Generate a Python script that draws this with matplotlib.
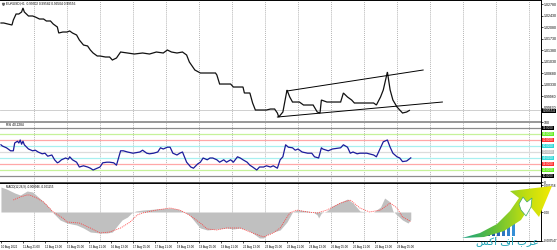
import matplotlib
matplotlib.use('Agg')
import matplotlib.pyplot as plt
import matplotlib.transforms as mtrans
from matplotlib.patches import Polygon, Rectangle
from matplotlib.colors import LinearSegmentedColormap
import numpy as np

plt.rcParams['font.family'] = ['Liberation Sans', 'DejaVu Sans']

# ---- data (x = bar number, H1) ----
price_bar = [0, 2, 5, 8, 9, 11, 13, 15, 16, 17, 20, 23, 25, 28, 31, 33, 36, 38, 41, 42,
             45, 48, 50, 52, 55, 57, 60, 63, 65, 67, 70, 72, 76, 79, 81, 84, 87, 92, 97, 103,
             108, 113, 118, 121, 124, 128, 132, 135, 137, 141, 145, 148, 152, 156, 157, 159, 163, 167, 169, 172,
             176, 177, 181, 183, 185, 188, 193, 196, 199, 201, 202, 205, 208, 210, 212, 217, 220, 223, 227, 230,
             232, 233, 237, 241, 247, 249, 252, 255, 257, 265, 271, 273, 276, 278, 281, 283, 285, 288, 290, 292,
             295, 297]
price_close = [1.02211, 1.02211, 1.02180, 1.02150, 1.02302, 1.02484, 1.02484, 1.02545, 1.02667, 1.02545,
               1.02424, 1.02424, 1.02393, 1.02332, 1.02332, 1.02272, 1.02272, 1.02180, 1.02089, 1.01907,
               1.01937, 1.01937, 1.01968, 1.01907, 1.01846, 1.01694, 1.01542, 1.01512, 1.01390, 1.01299,
               1.01208, 1.01208, 1.01177, 1.01177, 1.01086, 1.01147, 1.01329, 1.01299, 1.01268, 1.01299,
               1.01268, 1.01329, 1.01299, 1.01390, 1.01329, 1.01299, 1.01329, 1.01238, 1.01025, 1.00782,
               1.00691, 1.00691, 1.00691, 1.00691, 1.00630, 1.00356, 1.00356, 1.00356, 1.00265, 1.00265,
               1.00265, 1.00083, 1.00083, 0.99779, 0.99566, 0.99566, 0.99566, 0.99596, 0.99596, 0.99475,
               0.99353, 0.99505, 1.00174, 0.99961, 0.99809, 0.99809, 0.99718, 0.99718, 0.99718, 0.99505,
               0.99475, 0.99870, 0.99809, 0.99809, 0.99809, 1.00083, 0.99961, 0.99870, 0.99779, 0.99779,
               0.99779, 0.99718, 0.99961, 1.00174, 1.00721, 1.00174, 0.99870, 0.99657, 0.99566, 0.99475,
               0.99505, 0.99554]
last_price = 0.99554

# channel drawn on the chart: (bar, price) end points
chan_up_bar = [208, 307]
chan_up_val = [1.00144, 1.00782]
chan_lo_bar = [201, 321]
chan_lo_val = [0.99353, 0.99809]

rsi_bar = [0, 1, 4, 7, 9, 10, 12, 13, 14, 15, 16, 17, 20, 23, 25, 27, 30, 32, 34, 37,
           39, 41, 42, 44, 47, 49, 50, 52, 55, 57, 60, 63, 65, 67, 70, 72, 74, 77, 79, 82,
           84, 87, 89, 92, 96, 101, 103, 106, 108, 111, 114, 116, 118, 121, 123, 125, 128, 130, 132, 135,
           138, 140, 143, 145, 147, 150, 152, 154, 157, 159, 162, 164, 167, 169, 172, 174, 176, 179, 181, 183,
           186, 188, 191, 193, 196, 198, 201, 203, 205, 207, 209, 212, 214, 216, 219, 223, 226, 228, 231, 233,
           234, 238, 241, 247, 249, 252, 254, 256, 259, 261, 266, 271, 273, 276, 278, 281, 283, 285, 288, 290,
           292, 295, 298]
rsi_val = [62, 60, 57, 52, 52, 65, 68, 65, 70, 63, 68, 62, 55, 52, 53, 50, 47, 48, 43, 45,
           37, 32, 33, 37, 40, 38, 42, 37, 33, 25, 27, 25, 23, 20, 23, 25, 32, 33, 33, 32,
           28, 52, 52, 50, 48, 50, 53, 48, 47, 48, 50, 57, 55, 58, 58, 48, 45, 48, 50, 33,
           25, 23, 30, 33, 40, 37, 40, 40, 37, 33, 37, 33, 37, 33, 42, 40, 37, 33, 28, 25,
           20, 25, 25, 27, 25, 27, 23, 37, 42, 62, 58, 57, 53, 55, 50, 48, 48, 42, 40, 57,
           55, 52, 55, 57, 62, 58, 48, 50, 47, 48, 48, 45, 42, 57, 67, 70, 58, 48, 42, 40,
           34, 35, 40.2284]
rsi_levels = [90, 80, 70, 60, 50, 40, 30, 20, 10]

macd_bar = [0, 4, 10, 14, 19, 23, 28, 32, 36, 38, 43, 48, 55, 60, 65, 72, 77, 81, 85, 88,
            92, 95, 98, 103, 113, 123, 128, 132, 137, 140, 143, 145, 150, 157, 164, 169, 174, 179, 183, 188,
            191, 193, 198, 203, 208, 210, 212, 215, 217, 223, 227, 230, 231, 233, 237, 241, 247, 252, 256, 261,
            266, 271, 276, 279, 283, 285, 288, 292, 296, 298]
macd_val = [0.00306, 0.00282, 0.00233, 0.00208, 0.00257, 0.00245, 0.00171, 0.00110, 0.00037, -0.00012,
            -0.00098, -0.00135, -0.00159, -0.00196, -0.00245, -0.00257, -0.00257, -0.00245, -0.00159, -0.00098,
            -0.00061, -0.00012, 0.00012, 0.00024, 0.00037, 0.00049, 0.00037, 0.00012, -0.00037, -0.00098,
            -0.00159, -0.00196, -0.00220, -0.00208, -0.00196, -0.00208, -0.00196, -0.00220, -0.00257, -0.00318,
            -0.00318, -0.00282, -0.00245, -0.00220, -0.00122, -0.00061, 0.0, 0.00024, 0.00024, 0.00012,
            0.0, -0.00037, -0.00073, -0.00012, 0.00012, 0.00073, 0.00122, 0.00159, 0.00110, 0.00012,
            0.0, 0.0, 0.00061, 0.00171, 0.00122, 0.00012, -0.00037, -0.00098, -0.00135, -0.000946]
signal_bar = [9, 14, 19, 21, 26, 31, 38, 45, 48, 57, 65, 72, 79, 87, 94, 99, 103, 113, 123, 130,
              137, 145, 150, 157, 164, 174, 183, 191, 198, 203, 210, 215, 223, 230, 237, 247, 254, 261, 268, 276,
              283, 288, 292, 298]
signal_val = [0.00147, 0.00184, 0.00208, 0.00208, 0.00171, 0.00122, 0.0, -0.00073, -0.00122, -0.00135,
              -0.00196, -0.00257, -0.00245, -0.00196, -0.00122, -0.00037, -0.00012, 0.00024, 0.00049, 0.00024,
              -0.00037, -0.00135, -0.00208, -0.00220, -0.00196, -0.00196, -0.00257, -0.00306, -0.00257, -0.00196,
              -0.00012, 0.00024, 0.0, -0.00012, 0.00024, 0.00110, 0.00147, 0.00049, 0.0, 0.00024,
              0.00110, 0.00049, -0.00061, -0.001155]

time_bar = list(range(0, 289, 16))
time_lab = ['10 Aug 2022', '11 Aug 21:00', '12 Aug 13:00', '15 Aug 05:00', '15 Aug 21:00',
            '16 Aug 13:00', '17 Aug 05:00', '17 Aug 21:00', '18 Aug 13:00', '19 Aug 05:00',
            '19 Aug 21:00', '22 Aug 13:00', '23 Aug 05:00', '23 Aug 21:00', '24 Aug 13:00',
            '25 Aug 05:00', '25 Aug 21:00', '26 Aug 13:00', '29 Aug 05:00']
grid_bar = list(range(24, 393, 24))
price_ticks = [1.02780, 1.02430, 1.02080, 1.01730, 1.01380, 1.01030, 1.00680, 1.00330, 0.99980, 0.99630]

# ---- figure ----
W, H = 557, 250
fig = plt.figure(figsize=(W / 100, H / 100), dpi=100)
fig.patch.set_facecolor('white')


def box(x0, y0, x1, y1):
    return [x0 / W, 1 - y1 / H, (x1 - x0) / W, (y1 - y0) / H]


ax_p = fig.add_axes(box(0, 0, 541, 121))
ax_r = fig.add_axes(box(0, 122, 541, 182))
ax_m = fig.add_axes(box(0, 183, 541, 241))
XL = (-0.7, 392.7)
FS = 2.5

for ax in (ax_p, ax_r, ax_m):
    ax.set_xlim(*XL)
    for s in ax.spines.values():
        s.set_linewidth(0.7)
        s.set_color('#000000')
    ax.spines['left'].set_visible(False)
    ax.vlines(grid_bar, 0, 1, transform=ax.get_xaxis_transform(), colors='#8a8a8a',
              linewidth=0.5, linestyles=(0, (1.2, 1.6)), zorder=0)
    ax.yaxis.tick_right()
    ax.tick_params(axis='y', labelsize=FS, length=1.5, width=0.5, pad=0.8)
    ax.tick_params(axis='x', length=0, labelbottom=False)

# main price panel
ax_p.set_ylim(0.99232, 1.0291)
ax_p.plot(price_bar, price_close, color='#111111', linewidth=0.9, solid_joinstyle='miter')
ax_p.plot(chan_up_bar, chan_up_val, color='#000000', linewidth=0.7)
ax_p.plot(chan_lo_bar, chan_lo_val, color='#000000', linewidth=0.7)
ax_p.axhline(last_price, color='#c8c8c8', linewidth=0.6, zorder=0)
ax_p.set_yticks(price_ticks)
ax_p.set_yticklabels(['%.5f' % v for v in price_ticks])
tr_p = mtrans.blended_transform_factory(ax_p.transAxes, ax_p.transData)
ax_p.text(1.003, last_price - 0.0002, '%.5f' % last_price, transform=tr_p, fontsize=FS, color='white',
          va='center', ha='left', bbox=dict(boxstyle='square,pad=0.12', fc='black', ec='none'))
ax_p.text(0.011, 0.985, 'EURUSD,H1  0.99502 0.99582 0.99504 0.99556', transform=ax_p.transAxes,
          fontsize=2.3, va='top', ha='left')
ax_p.plot([0.005], [0.968], marker='v', ms=1.5, color='#606060', transform=ax_p.transAxes)

# RSI panel
ax_r.set_ylim(0, 100)
lvl_line = {90: '#8c8c8c', 80: '#c6f29a', 70: '#ffa8a8', 60: '#a8f0f0', 50: '#dcdcdc',
            40: '#a8f0f0', 30: '#ffa8a8', 20: '#c6f29a', 10: '#8c8c8c'}
lvl_box = {90: '#000000', 80: '#66ee22', 70: '#ff3030', 60: '#30d8d8', 50: '#c0c0c0',
           40: '#30d8d8', 30: '#ff3030', 20: '#66ee22', 10: '#000000'}
tr_r = mtrans.blended_transform_factory(ax_r.transAxes, ax_r.transData)
for lv in rsi_levels:
    ax_r.axhline(lv, color=lvl_line[lv], linewidth=0.9, zorder=1)
    ax_r.text(1.003, lv, '%.4f' % lv, transform=tr_r, fontsize=2.2, color='white',
              va='center', ha='left', bbox=dict(boxstyle='square,pad=0.12', fc=lvl_box[lv], ec='none'))
ax_r.plot(rsi_bar, rsi_val, color='#1c1c9c', linewidth=0.9, zorder=3)
ax_r.set_yticks([0, 100])
ax_r.set_yticklabels(['0', '100'])
ax_r.text(0.011, 0.975, 'RSI 40.2284', transform=ax_r.transAxes, fontsize=2.3, va='top', ha='left')

# MACD panel
ax_m.set_ylim(-0.00355, 0.00355)
ax_m.fill_between(macd_bar, 0, macd_val, color='#c0c0c0', linewidth=0, zorder=1)
ax_m.plot(signal_bar, signal_val, color='#ff4040', linewidth=0.6, linestyle=(0, (1.2, 1.2)), zorder=2)
ax_m.set_yticks([0.003258, 0.0, -0.003547])
ax_m.set_yticklabels(['0.003258', '0.00', '-0.003547'])
ax_m.tick_params(axis='y', labelsize=2.2)
ax_m.text(0.011, 0.97, 'MACD(12,26,9) -0.000946 -0.001155', transform=ax_m.transAxes,
          fontsize=2.1, va='top', ha='left')
ax_m.set_xticks(time_bar)
ax_m.set_xticklabels(time_lab)
ax_m.tick_params(axis='x', labelbottom=True, labelsize=2.1, length=1.5, width=0.5, pad=1.5)
for t in ax_m.get_xticklabels():
    t.set_horizontalalignment('left')

# separators between panels
ov = fig.add_axes([0, 0, 1, 1], zorder=10)
ov.set_xlim(0, W)
ov.set_ylim(H, 0)
ov.axis('off')
ov.add_patch(Rectangle((0, 120.5), 541, 2.2, color='#9a9a9a', lw=0))
ov.add_patch(Rectangle((0, 181.5), 541, 1.6, color='#505050', lw=0))

# logo watermark (bottom right)
bar_x = [487, 492, 497, 502, 507, 512]
bar_top = [231, 228, 225, 221, 217, 213]
for bx, bt, c in zip(bar_x, bar_top, ['#1d4f9c', '#2059a8', '#2566b5', '#2a74c2', '#3082cc', '#3690d6']):
    ov.add_patch(Rectangle((bx, bt), 3.4, 236 - bt, color=c, lw=0, zorder=11))
arrow = [(462, 238), (480, 233), (497, 224), (510, 211), (519, 198), (510, 191), (552, 186),
         (539, 217), (530, 206), (521, 220), (504, 231), (484, 237)]
poly = Polygon(arrow, closed=True, fc='none', ec='none')
ov.add_patch(poly)
cmap = LinearSegmentedColormap.from_list('logo', ['#13a089', '#5cbd3c', '#b8dc14', '#f6ea00'])
grad = np.tile(np.linspace(0, 1, 100), (60, 1))
im = ov.imshow(grad, extent=[460, 554, 240, 184], cmap=cmap, aspect='auto', zorder=12)
im.set_clip_path(poly)
ov.add_patch(Polygon([(519, 204), (523, 197), (527, 202), (532, 198), (531, 207), (526, 216), (521, 210)],
                     closed=True, fc='white', ec='#3aa86a', lw=0.5, zorder=13))
ov.text(507, 241.5, '\uFEB2\uFEDB\uFE8D \uFED1\uFE8D \uFE8F\uFEAE\uFECB', fontsize=7.5,
        family='DejaVu Sans', color='#1ba3b5', ha='center', va='center', zorder=13)

fig.savefig('out.png', dpi=100)
